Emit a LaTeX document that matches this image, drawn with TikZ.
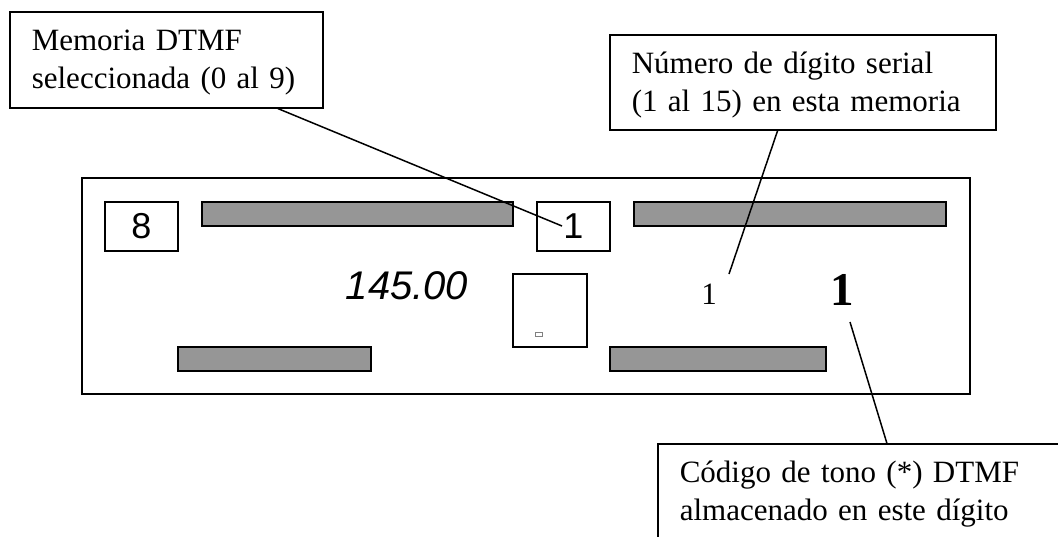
\documentclass[tikz,border=0pt]{standalone}
\usepackage{fontspec}
\setmainfont{Liberation Serif}
\setsansfont{Liberation Sans}
\usetikzlibrary{positioning,calc}
\definecolor{barfill}{RGB}{150,150,150}

\begin{document}
\begin{tikzpicture}[x=1pt,y=-1pt,
        callout/.style={draw,line width=1.6pt,align=left,anchor=north west,
            inner xsep=22pt,inner ysep=10pt,text height=29pt,
            font=\fontsize{31}{38}\selectfont},
        panel/.style={draw,line width=1.6pt,minimum width=888pt,minimum height=216pt},
        digitbox/.style={draw,line width=1.6pt,minimum width=73pt,minimum height=49pt,
            inner sep=0pt,font=\sffamily\fontsize{36}{36}\selectfont},
        segbar/.style={draw,line width=1.3pt,fill=barfill},
        pointer/.style={line width=1.5pt},
        ]
    \useasboundingbox (0,0) rectangle (1058,536);
    \clip (0,0) rectangle (1058,536);

    % display panel
    \node (display) [panel] at (526,286) {};
    \node (mem) [digitbox] at (141.5,226.5) {8};
    \node (memdigit) [digitbox] at (573.5,226.5) {1};
    \node (cursor) [draw,line width=1.6pt,minimum width=74pt,minimum height=73pt] at (550,310.5) {};
    \draw[gray,line width=0.5pt] (535,332) rectangle (542,336);
    \foreach \xa/\ya/\xb/\yb in {202/202/513/226, 634/202/946/226,
                                178/347/371/371, 610/347/826/371}
        \draw[segbar] (\xa,\ya) rectangle (\xb,\yb);

    \node (freq) [anchor=base,inner sep=0pt,font=\sffamily\itshape\fontsize{40}{40}\selectfont]
        at (407,299) {145.00};
    \node (serial) [anchor=base,inner sep=0pt,font=\fontsize{31}{31}\selectfont]
        at (709,304) {1};
    \node (tone) [anchor=base,inner sep=0pt,font=\bfseries\fontsize{47}{47}\selectfont]
        at (842,305) {1};

    % callouts
    \node (memlabel) [callout,text width=269pt,text depth=47pt] at (9,11)
        {Memoria DTMF\\seleccionada (0 al 9)};
    \node (seriallabel) [callout,text width=342pt,text depth=46pt] at (609,34)
        {Número de dígito serial\\(1 al 15) en esta memoria};
    \node (tonelabel) [callout,text width=380pt,text depth=70pt] at (657,443)
        {Código de tono (*) DTMF\\almacenado en este dígito};

    \coordinate (memtip) at (562,226);
    \coordinate (serialtip) at (729,274);
    \coordinate (tonetip) at (850,322);

    \draw[pointer] ($(memlabel.south west)!0.855!(memlabel.south east)$) -- (memtip);
    \draw[pointer] ($(seriallabel.south west)!0.435!(seriallabel.south east)$) -- (serialtip);
    \draw[pointer] (tonetip) -- ($(tonelabel.north west)!0.54!(tonelabel.north east)$);
\end{tikzpicture}
\end{document}
